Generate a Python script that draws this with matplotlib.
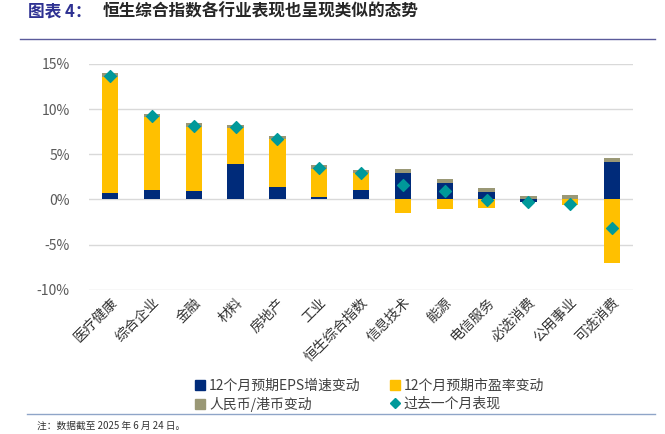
import numpy as np
import matplotlib
matplotlib.use('Agg')
from matplotlib import pyplot as plt
from matplotlib.lines import Line2D
from matplotlib.patches import Patch

plt.rcParams['font.family'] = ['Noto Sans CJK SC', 'DejaVu Sans']

categories = ['医疗健康', '综合企业', '金融', '材料', '房地产', '工业', '恒生综合指数',
              '信息技术', '能源', '电信服务', '必选消费', '公用事业', '可选消费']
eps = [0.66, 1.1, 0.96, 3.92, 1.4, 0.3, 1.03, 2.96, 1.85, 0.81, -0.33, 0.0, 4.14]
pe = [12.93, 8.0, 7.1, 4.03, 5.25, 3.1, 1.93, -1.48, -1.0, -0.96, 0.0, -0.6, -7.0]
fx = [0.37, 0.33, 0.4, 0.33, 0.37, 0.37, 0.3, 0.4, 0.37, 0.44, 0.4, 0.44, 0.4]
perf = [13.7, 9.24, 8.13, 8.05, 6.69, 3.44, 2.88, 1.55, 0.89, -0.07, -0.33, -0.48, -3.2]

c_eps = '#002B7A'
c_pe = '#FFC000'
c_fx = '#9A9876'
c_perf = '#00999A'

fig = plt.figure(figsize=(6.65, 4.34), dpi=100)
ax = fig.add_axes([0.134, 0.332, 0.818, 0.521])

x = np.arange(len(categories))
pos_base = np.zeros(len(categories))
neg_base = np.zeros(len(categories))
for vals, col in [(eps, c_eps), (pe, c_pe), (fx, c_fx)]:
    vals = np.array(vals)
    base = np.where(vals >= 0, pos_base, neg_base)
    ax.bar(x, vals, 0.39, bottom=base, color=col, zorder=3)
    pos_base += np.where(vals >= 0, vals, 0)
    neg_base += np.where(vals < 0, vals, 0)

ax.scatter(x, perf, marker='D', s=36, color=c_perf, zorder=4)

ax.set_ylim(-10, 15)
ax.set_xlim(-0.5, len(categories) - 0.5)
ax.set_yticks([-10, -5, 0, 5, 10, 15])
ax.set_yticklabels(['-10%', '-5%', '0%', '5%', '10%', '15%'])
ax.grid(axis='y', color='#D9D9D9', linewidth=1, zorder=0)
for s in ax.spines.values():
    s.set_visible(False)
ax.tick_params(axis='y', length=0, labelcolor='#595959', labelsize=10, pad=14)
ax.tick_params(axis='x', length=0, labelcolor='#333333', labelsize=10, pad=4)
ax.set_xticks(x)
ax.set_xticklabels(categories, rotation=45, ha='right', va='top', rotation_mode='anchor')

handles = [Patch(color=c_eps, label='12个月预期EPS增速变动'),
           Patch(color=c_fx, label='人民币/港币变动'),
           Patch(color=c_pe, label='12个月预期市盈率变动'),
           Line2D([], [], marker='D', color=c_perf, linestyle='none', markersize=5,
                  label='过去一个月表现')]
fig.legend(handles=handles, ncol=2, loc='center', bbox_to_anchor=(0.556, 0.089),
           frameon=False, fontsize=10, handlelength=0.7, handleheight=0.7,
           handletextpad=0.3, columnspacing=2.1, labelspacing=0.3,
           labelcolor='#404040')

fig.text(0.042, 0.973, '图表 4：', fontsize=12, fontweight='bold', color='#2E3192', va='center')
fig.text(0.155, 0.973, '恒生综合指数各行业表现也呈现类似的态势', fontsize=12,
         fontweight='bold', color='#262626', va='center')
fig.add_artist(Line2D([0.03, 0.985], [0.91, 0.91], color='#5B5B9B', linewidth=1))
fig.add_artist(Line2D([0.04, 0.985], [0.046, 0.046], color='#8FA5C8', linewidth=1))
fig.text(0.055, 0.018, '注：数据截至 2025 年 6 月 24 日。', fontsize=7, color='#333333', va='center')

fig.savefig('out.png')
